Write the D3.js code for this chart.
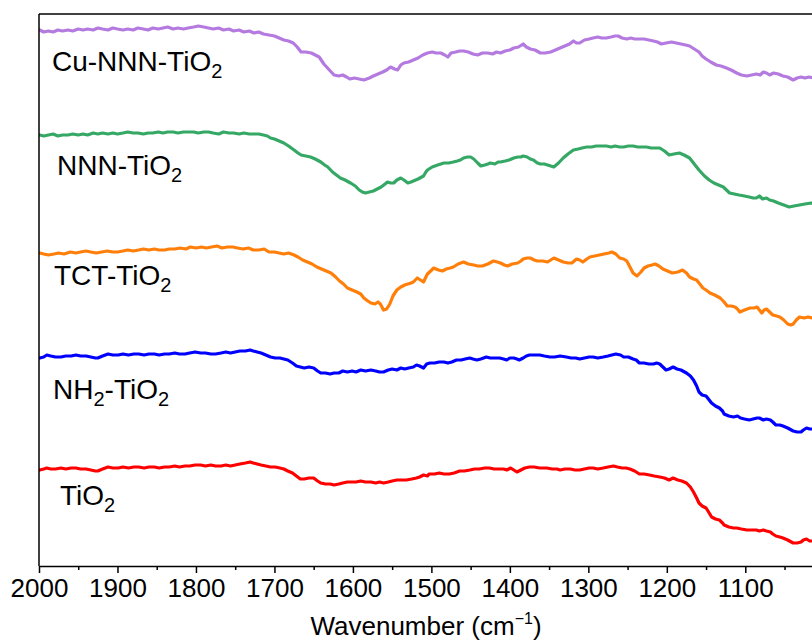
<!DOCTYPE html>
<html>
<head>
<meta charset="utf-8">
<script src="https://cdn.jsdelivr.net/npm/d3@7"></script>
<style>
  html, body { margin: 0; padding: 0; background: #fff; }
  svg { display: block; font-family: "Liberation Sans", Arial, sans-serif; }
</style>
</head>
<body>
<svg id="chart" width="812" height="642"></svg>
<script>
// ---- data: [wavenumber (cm^-1), intensity (a.u., stacked offsets)] ----
const cuNNN = [[1999,536],[1994,534],[1988,535],[1982,534],[1976,536],[1970,535],[1963,536],[1957,535],[1950,537],[1944,536],[1938,537],[1931,536],[1925,538],[1919,537],[1912,536],[1906,538],[1900,537],[1893,536],[1887,537],[1880,536],[1874,538],[1867,537],[1861,536],[1855,538],[1848,537],[1842,538],[1836,539],[1829,537],[1823,538],[1816,537],[1810,538],[1803,539],[1797,540],[1790,539],[1784,538],[1778,537],[1771,538],[1765,536],[1758,537],[1752,535],[1745,536],[1739,534],[1732,535],[1726,533],[1720,534],[1714,532],[1707,531],[1700,530],[1694,528],[1688,526],[1682,525],[1676,523],[1671,519],[1666,514],[1660,514],[1653,513],[1648,511],[1643,509],[1637,502],[1630,496],[1624,491],[1618,490],[1613,491],[1608,489],[1604,487],[1598,488],[1592,487],[1586,486],[1579,488],[1574,490],[1568,492],[1562,494],[1557,496],[1552,499],[1547,497],[1543,496],[1539,501],[1535,503],[1529,504],[1523,506],[1517,508],[1511,511],[1505,513],[1499,514],[1494,513],[1488,513],[1483,511],[1479,509],[1475,513],[1469,514],[1464,515],[1459,515],[1453,514],[1447,512],[1441,511],[1435,513],[1428,513],[1422,512],[1417,514],[1412,513],[1406,515],[1400,516],[1395,518],[1389,519],[1383,522],[1379,519],[1374,517],[1368,516],[1361,513],[1355,513],[1348,514],[1342,516],[1336,518],[1330,520],[1324,522],[1319,525],[1315,523],[1311,523],[1305,526],[1299,527],[1294,528],[1288,529],[1283,528],[1277,528],[1271,529],[1266,530],[1262,530],[1257,528],[1251,527],[1246,528],[1241,527],[1235,527],[1229,527],[1223,526],[1217,525],[1212,524],[1207,522],[1201,523],[1194,524],[1188,523],[1182,522],[1176,521],[1171,520],[1165,517],[1159,514],[1155,510],[1150,507],[1144,504],[1137,501],[1131,500],[1124,498],[1118,496],[1111,493],[1105,491],[1098,490],[1092,491],[1086,492],[1081,491],[1077,494],[1073,493],[1069,491],[1064,493],[1058,492],[1052,490],[1046,489],[1039,486],[1034,488],[1029,489],[1024,488],[1019,489],[1012,488]];

const nnn = [[1999,431],[1994,430],[1988,431],[1982,432],[1976,430],[1970,431],[1963,431],[1957,432],[1950,431],[1944,432],[1938,431],[1931,433],[1925,432],[1919,433],[1912,432],[1906,433],[1900,432],[1893,433],[1887,434],[1880,433],[1874,433],[1867,432],[1861,433],[1855,433],[1848,434],[1842,433],[1836,434],[1829,434],[1823,433],[1816,434],[1810,434],[1803,434],[1797,433],[1790,434],[1784,434],[1778,433],[1771,432],[1765,434],[1758,433],[1752,433],[1745,432],[1739,433],[1732,432],[1726,432],[1720,432],[1714,431],[1709,430],[1705,428],[1700,427],[1694,425],[1688,423],[1682,420],[1675,416],[1670,413],[1666,411],[1660,410],[1654,409],[1648,407],[1641,404],[1636,401],[1632,399],[1626,394],[1621,391],[1616,388],[1610,386],[1603,383],[1597,380],[1592,376],[1588,374],[1584,373],[1579,374],[1574,375],[1569,377],[1564,379],[1559,382],[1556,384],[1552,383],[1548,383],[1544,386],[1539,388],[1535,386],[1530,383],[1526,384],[1523,385],[1517,387],[1510,390],[1507,394],[1505,396],[1499,399],[1492,401],[1488,402],[1484,403],[1478,403],[1472,404],[1467,405],[1463,406],[1459,408],[1454,409],[1450,409],[1446,407],[1441,403],[1437,400],[1432,401],[1428,402],[1425,403],[1419,402],[1415,404],[1412,404],[1406,405],[1401,406],[1395,408],[1390,409],[1386,409],[1383,410],[1378,409],[1374,407],[1370,406],[1365,403],[1361,402],[1356,402],[1352,401],[1348,400],[1344,399],[1338,403],[1332,408],[1326,412],[1319,416],[1313,417],[1308,418],[1302,419],[1296,419],[1290,420],[1284,420],[1277,420],[1271,419],[1266,420],[1260,419],[1255,419],[1249,420],[1243,420],[1237,419],[1232,419],[1226,419],[1220,418],[1215,418],[1209,418],[1203,415],[1197,411],[1191,412],[1184,413],[1178,411],[1171,408],[1165,402],[1159,396],[1152,390],[1146,386],[1140,383],[1134,381],[1128,379],[1124,376],[1120,373],[1114,372],[1108,371],[1101,370],[1095,369],[1090,368],[1086,368],[1082,370],[1078,367],[1073,368],[1069,366],[1064,365],[1058,363],[1051,361],[1044,359],[1038,360],[1031,361],[1024,362],[1016,363],[1012,362]];

const tct = [[1999,313],[1994,312],[1988,311],[1981,312],[1975,313],[1968,312],[1960,314],[1953,313],[1947,314],[1940,315],[1934,314],[1927,313],[1920,314],[1913,315],[1906,314],[1900,314],[1893,315],[1887,316],[1880,315],[1873,316],[1867,317],[1860,316],[1853,317],[1847,316],[1840,316],[1834,317],[1827,317],[1820,318],[1813,317],[1807,319],[1800,318],[1793,319],[1787,318],[1780,319],[1773,320],[1767,318],[1760,319],[1753,319],[1747,318],[1740,317],[1733,318],[1727,316],[1720,316],[1713,317],[1707,314],[1700,314],[1694,313],[1688,312],[1682,313],[1675,311],[1670,309],[1664,306],[1658,304],[1652,302],[1646,299],[1640,297],[1634,295],[1628,293],[1622,289],[1617,285],[1612,282],[1607,278],[1601,276],[1595,274],[1590,272],[1586,268],[1581,265],[1577,263],[1572,262],[1568,264],[1565,262],[1561,256],[1557,257],[1553,262],[1549,270],[1544,276],[1539,279],[1534,281],[1530,282],[1526,283],[1523,284],[1518,288],[1514,286],[1510,284],[1507,289],[1505,292],[1501,295],[1497,298],[1491,296],[1486,295],[1481,297],[1476,298],[1472,299],[1466,302],[1459,304],[1453,302],[1446,301],[1441,300],[1435,300],[1428,302],[1421,305],[1416,304],[1412,303],[1407,301],[1403,300],[1397,302],[1390,303],[1386,305],[1383,307],[1378,308],[1374,308],[1369,306],[1365,305],[1358,305],[1352,304],[1348,306],[1344,308],[1338,306],[1332,304],[1326,303],[1321,303],[1315,307],[1311,306],[1307,304],[1302,307],[1298,309],[1292,310],[1286,311],[1280,312],[1274,313],[1270,314],[1265,312],[1260,308],[1255,307],[1251,305],[1247,299],[1243,293],[1238,290],[1233,294],[1229,298],[1224,300],[1219,301],[1215,302],[1210,300],[1205,297],[1199,295],[1193,293],[1186,294],[1180,296],[1175,293],[1171,289],[1166,287],[1162,286],[1158,282],[1154,278],[1150,276],[1145,273],[1139,271],[1132,268],[1127,264],[1123,260],[1118,260],[1113,259],[1110,257],[1107,254],[1101,256],[1094,258],[1089,258],[1085,259],[1082,256],[1079,253],[1076,256],[1073,257],[1069,254],[1065,251],[1060,250],[1056,249],[1051,246],[1046,242],[1042,241],[1039,242],[1035,246],[1031,249],[1025,248],[1020,249],[1015,248],[1012,248]];

const nh2 = [[1999,208],[1994,209],[1990,211],[1985,210],[1979,209],[1972,209],[1966,210],[1959,210],[1953,211],[1947,210],[1940,210],[1934,209],[1928,208],[1925,208],[1919,210],[1912,212],[1906,211],[1899,211],[1893,212],[1886,211],[1879,212],[1873,212],[1866,211],[1860,212],[1853,212],[1847,211],[1840,212],[1834,212],[1827,213],[1821,212],[1814,212],[1808,213],[1801,214],[1794,213],[1788,213],[1781,212],[1775,212],[1768,213],[1762,214],[1756,213],[1750,214],[1744,215],[1737,215],[1731,216],[1727,215],[1722,214],[1717,213],[1711,211],[1705,209],[1699,208],[1693,208],[1688,207],[1683,206],[1677,203],[1672,200],[1667,199],[1662,198],[1656,199],[1650,198],[1645,195],[1641,193],[1635,193],[1629,192],[1624,193],[1618,193],[1613,195],[1607,194],[1601,195],[1596,194],[1590,196],[1584,195],[1577,196],[1571,195],[1566,194],[1561,194],[1555,196],[1550,197],[1544,196],[1539,198],[1534,197],[1529,198],[1523,199],[1519,201],[1515,200],[1510,198],[1506,202],[1502,203],[1496,203],[1490,204],[1484,204],[1479,203],[1474,204],[1468,206],[1462,206],[1457,207],[1451,208],[1447,207],[1442,206],[1437,207],[1430,209],[1425,208],[1419,208],[1413,208],[1408,207],[1404,206],[1400,208],[1395,208],[1391,207],[1388,206],[1383,208],[1379,210],[1375,211],[1369,211],[1362,211],[1356,210],[1349,209],[1343,209],[1336,210],[1328,209],[1322,208],[1316,208],[1311,207],[1305,208],[1299,209],[1294,209],[1288,208],[1281,209],[1275,210],[1270,211],[1265,212],[1259,211],[1255,209],[1249,209],[1243,207],[1239,206],[1235,203],[1229,203],[1223,202],[1217,202],[1213,203],[1209,202],[1205,199],[1201,196],[1197,197],[1192,199],[1187,197],[1182,196],[1175,193],[1170,190],[1166,186],[1162,180],[1159,174],[1155,171],[1150,170],[1146,166],[1143,163],[1138,160],[1133,158],[1129,155],[1127,152],[1121,150],[1115,149],[1110,150],[1106,148],[1101,147],[1095,146],[1090,147],[1085,148],[1082,148],[1077,146],[1073,147],[1068,146],[1065,144],[1061,141],[1056,141],[1052,140],[1046,138],[1039,135],[1034,134],[1029,134],[1026,136],[1022,138],[1018,137],[1012,137]];

const tio2 = [[1999,96],[1994,97],[1990,98],[1985,97],[1979,97],[1972,98],[1966,97],[1959,98],[1953,98],[1947,97],[1940,97],[1934,96],[1928,95],[1925,95],[1919,97],[1912,99],[1906,98],[1899,98],[1893,99],[1886,98],[1879,99],[1873,99],[1866,98],[1860,99],[1853,99],[1847,98],[1840,99],[1834,99],[1827,100],[1821,99],[1814,100],[1808,100],[1801,101],[1794,101],[1788,100],[1781,101],[1775,100],[1768,100],[1762,101],[1756,100],[1750,101],[1744,102],[1737,103],[1731,104],[1727,103],[1722,102],[1717,101],[1711,100],[1705,99],[1699,99],[1693,98],[1688,97],[1683,95],[1677,93],[1672,90],[1667,87],[1662,87],[1656,88],[1650,88],[1645,85],[1641,83],[1635,82],[1629,82],[1624,81],[1618,82],[1613,83],[1607,84],[1601,84],[1596,84],[1590,85],[1584,84],[1577,84],[1571,83],[1566,84],[1561,83],[1555,84],[1550,85],[1544,86],[1539,86],[1532,86],[1525,87],[1519,88],[1515,89],[1510,91],[1505,90],[1503,92],[1496,92],[1490,93],[1484,92],[1477,92],[1471,93],[1464,95],[1458,95],[1451,96],[1445,97],[1439,97],[1432,98],[1426,98],[1420,97],[1414,97],[1408,97],[1404,96],[1399,98],[1395,96],[1391,94],[1386,96],[1381,98],[1375,99],[1369,99],[1362,98],[1353,98],[1346,97],[1340,97],[1336,96],[1330,97],[1323,97],[1317,96],[1311,96],[1305,97],[1299,98],[1294,98],[1288,97],[1281,98],[1275,99],[1268,100],[1263,99],[1257,98],[1252,98],[1247,97],[1241,95],[1235,92],[1229,92],[1222,91],[1216,90],[1209,89],[1203,88],[1197,86],[1192,88],[1186,86],[1181,85],[1175,83],[1170,79],[1166,74],[1162,68],[1159,63],[1155,60],[1150,58],[1146,53],[1143,49],[1138,47],[1133,46],[1129,43],[1127,41],[1121,39],[1115,38],[1111,38],[1105,37],[1098,36],[1092,36],[1086,36],[1082,35],[1077,36],[1073,35],[1068,34],[1065,32],[1061,30],[1056,29],[1052,28],[1046,26],[1039,23],[1034,23],[1029,24],[1026,26],[1022,27],[1018,25],[1012,25]];

const seriesColors = ["#B47AE0", "#35A865", "#FF7F0A", "#0000FF", "#FF0000"];
const xTicks = [2000, 1900, 1800, 1700, 1600, 1500, 1400, 1300, 1200, 1100];
const xMinorTicks = [1950, 1850, 1750, 1650, 1550, 1450, 1350, 1250, 1150, 1050];
const labelParts = [
  [["Cu-NNN-TiO", 0], ["2", 1]],
  [["NNN-TiO", 0], ["2", 1]],
  [["TCT-TiO", 0], ["2", 1]],
  [["NH", 0], ["2", 1], ["-TiO", 0], ["2", 1]],
  [["TiO", 0], ["2", 1]]
];
const xTitle = ["Wavenumber (cm", "\u22121", ")"];

// ---- layout ----
const svg = d3.select("#chart");
const L = 39, T = 14, B = 566, R = 812;
const x = d3.scaleLinear().domain([2000, 1015]).range([L, R]);
const y = d3.scaleLinear().domain([0, 552]).range([B, T]);

svg.append("defs").append("clipPath").attr("id", "plotclip")
  .append("rect").attr("x", L).attr("y", T).attr("width", R - L).attr("height", B - T);

const line = d3.line().x(d => x(d[0])).y(d => y(d[1])).curve(d3.curveLinear);
const allSeries = [cuNNN, nnn, tct, nh2, tio2];

const g = svg.append("g").attr("clip-path", "url(#plotclip)");
allSeries.forEach((s, i) => {
  g.append("path").datum(s).attr("d", line)
    .attr("fill", "none").attr("stroke", seriesColors[i])
    .attr("stroke-width", 3.2).attr("stroke-linejoin", "round").attr("stroke-linecap", "round");
});

// frame
svg.append("line").attr("x1", L).attr("x2", L).attr("y1", T).attr("y2", B).attr("stroke", "#000").attr("stroke-width", 1.5);
svg.append("line").attr("x1", L).attr("x2", R).attr("y1", T).attr("y2", T).attr("stroke", "#000").attr("stroke-width", 1.5);

// x axis
const ax = svg.append("g").attr("transform", `translate(0,${B})`)
  .call(d3.axisBottom(x).tickValues(xTicks).tickFormat(d3.format("d")).tickSize(7).tickPadding(6).tickSizeOuter(0));
ax.select(".domain").attr("stroke-width", 1.5);
ax.selectAll(".tick line").attr("stroke-width", 1.5);
ax.selectAll(".tick text").attr("font-size", 26).attr("font-family", "Liberation Sans, Arial, sans-serif").attr("fill", "#000");
const axm = svg.append("g").attr("transform", `translate(0,${B})`)
  .call(d3.axisBottom(x).tickValues(xMinorTicks).tickFormat("").tickSize(4).tickSizeOuter(0));
axm.select(".domain").remove();
axm.selectAll(".tick line").attr("stroke-width", 1.5);

// axis title
const title = svg.append("text").attr("x", 426).attr("y", 635).attr("text-anchor", "middle")
  .attr("font-size", 26).attr("fill", "#000");
title.append("tspan").text(xTitle[0]);
title.append("tspan").attr("font-size", 16).attr("dy", -11).text(xTitle[1]);
title.append("tspan").attr("dy", 11).text(xTitle[2]);

// series labels
const labelPos = [[52, 71], [57, 175], [54, 285], [53, 399], [60, 505]];
labelParts.forEach((parts, i) => {
  const t = svg.append("text").attr("x", labelPos[i][0]).attr("y", labelPos[i][1])
    .attr("font-size", 28).attr("fill", "#000");
  let sub = 0;
  parts.forEach(([txt, isSub]) => {
    const ts = t.append("tspan").text(txt);
    if (isSub && !sub) { ts.attr("font-size", 20).attr("dy", 7); sub = 1; }
    else if (!isSub && sub) { ts.attr("dy", -7); sub = 0; }
  });
});
</script>
</body>
</html>
